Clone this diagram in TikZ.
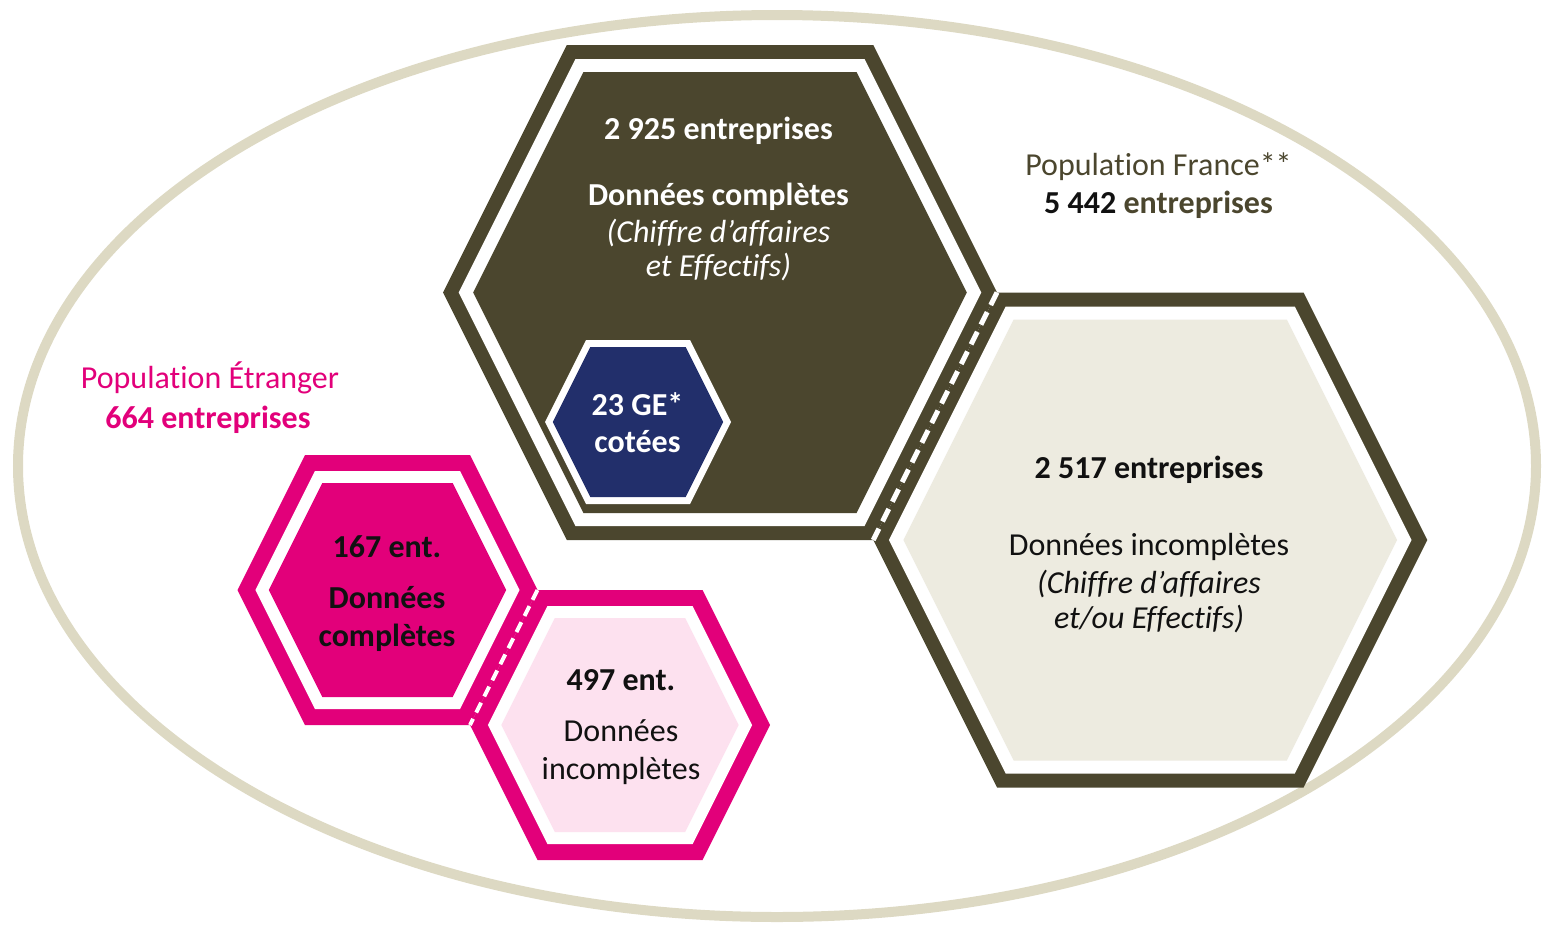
\documentclass[tikz,border=0pt]{standalone}
\usepackage{fontspec}
\setmainfont{Carlito}[Ligatures=NoCommon]
\definecolor{olivedk}{HTML}{4B462E}
\definecolor{ellcol}{HTML}{DDD9C3}
\definecolor{lightfill}{HTML}{EDEBE0}
\definecolor{navy}{HTML}{222F6B}
\definecolor{magenta}{HTML}{E2007A}
\definecolor{lightpink}{HTML}{FDE1EF}
\definecolor{txtblack}{HTML}{111111}
% hexagon with pointy left/right: cx, cy, half-width W, half-height H, inset d (edge slope dx/dy = 0.5)
\newcommand{\hexshape}[5]{%
({#1-(#3-#5*1.118)},{#2}) --
({#1-(#3-#5*1.118)+(#4-#5)*0.5},{#2-(#4-#5)}) --
({#1+(#3-#5*1.118)-(#4-#5)*0.5},{#2-(#4-#5)}) --
({#1+(#3-#5*1.118)},{#2}) --
({#1+(#3-#5*1.118)-(#4-#5)*0.5},{#2+(#4-#5)}) --
({#1-(#3-#5*1.118)+(#4-#5)*0.5},{#2+(#4-#5)}) -- cycle}
\tikzset{
  txt/.style={anchor=base, inner sep=0pt, font=\fontsize{32}{38}\selectfont},
  bold/.style={txt, font=\fontsize{32}{38}\selectfont\bfseries},
  ital/.style={txt, font=\fontsize{32}{38}\selectfont\itshape},
  sep/.style={white, line width=5pt, dash pattern=on 14pt off 8pt},
}
\begin{document}
\begin{tikzpicture}[x=1pt,y=-1pt]
\useasboundingbox (0,0) rectangle (1547,924);
% outer ellipse
\draw[ellcol, line width=10pt] (777,466) ellipse [x radius=759, y radius=451];

% large dark hexagon (top)
\fill[olivedk] \hexshape{720}{292.5}{277}{247.5}{0};
\fill[white]   \hexshape{720}{292.5}{277}{247.5}{14};
\fill[olivedk] \hexshape{720}{292.5}{277}{247.5}{27};

% right light hexagon
\fill[olivedk]   \hexshape{1150.25}{540}{277}{247.5}{0};
\fill[white]     \hexshape{1150.25}{540}{277}{247.5}{14};
\fill[lightfill] \hexshape{1150.25}{540}{277}{247.5}{27};

% shared edge, dashed
\coordinate (bigR) at (997,292.5);
\coordinate (bigBR) at (873.25,540);
\draw[sep] (bigR) -- (bigBR);

% navy hexagon
\fill[white] \hexshape{638}{422}{93}{82}{0};
\fill[navy]  \hexshape{638}{422}{93}{82}{7};

% pink hexagons
\fill[magenta] \hexshape{387.5}{590}{150}{135}{0};
\fill[white]   \hexshape{387.5}{590}{150}{135}{16};
\fill[magenta] \hexshape{387.5}{590}{150}{135}{28};

\fill[magenta]   \hexshape{620}{725}{150}{135}{0};
\fill[white]     \hexshape{620}{725}{150}{135}{16};
\fill[lightpink] \hexshape{620}{725}{150}{135}{28};

\coordinate (pinkR) at (537.5,590);
\coordinate (pinkBR) at (470,725);
\draw[sep, line width=4pt, dash pattern=on 11pt off 7pt] (pinkR) -- (pinkBR);

% texts - large hexagon
\node[bold, white] (t1) at (718.5,139) {2 925 entreprises};
\node[bold, white] (t2) at (718.5,205) {Données complètes};
\node[ital, white] (t3) at (718.5,242) {(Chiffre d’affaires};
\node[ital, white] (t4) at (718.5,276) {et Effectifs)};

% navy
\node[bold, white] (n1) at (637.5,415) {23 GE*};
\node[bold, white] (n2) at (637.5,452) {cotées};

% right hexagon
\node[bold, txtblack] (r1) at (1149,478) {2 517 entreprises};
\node[txt, txtblack] (r2) at (1149,555) {Données incomplètes};
\node[ital, txtblack] (r3) at (1149,593) {(Chiffre d’affaires};
\node[ital, txtblack] (r4) at (1149,628) {et/ou Effectifs)};

% France label
\node[txt, olivedk] (f1) at (1158.5,175) {Population France**};
\node[bold] (f2) at (1158.5,213) {\textcolor{txtblack}{5 442} \textcolor{olivedk}{entreprises}};

% Etranger label
\node[txt, magenta] (e1) at (210,388) {Population Étranger};
\node[bold, magenta] (e2) at (208,428) {664 entreprises};

% pink left
\node[bold, txtblack] (p1) at (387,557) {167 ent.};
\node[bold, txtblack] (p2) at (387,608) {Données};
\node[bold, txtblack] (p3) at (387,646) {complètes};

% pink right
\node[bold, txtblack] (q1) at (621,690) {497 ent.};
\node[txt, txtblack] (q2) at (621,741) {Données};
\node[txt, txtblack] (q3) at (621,779) {incomplètes};
\end{tikzpicture}
\end{document}
